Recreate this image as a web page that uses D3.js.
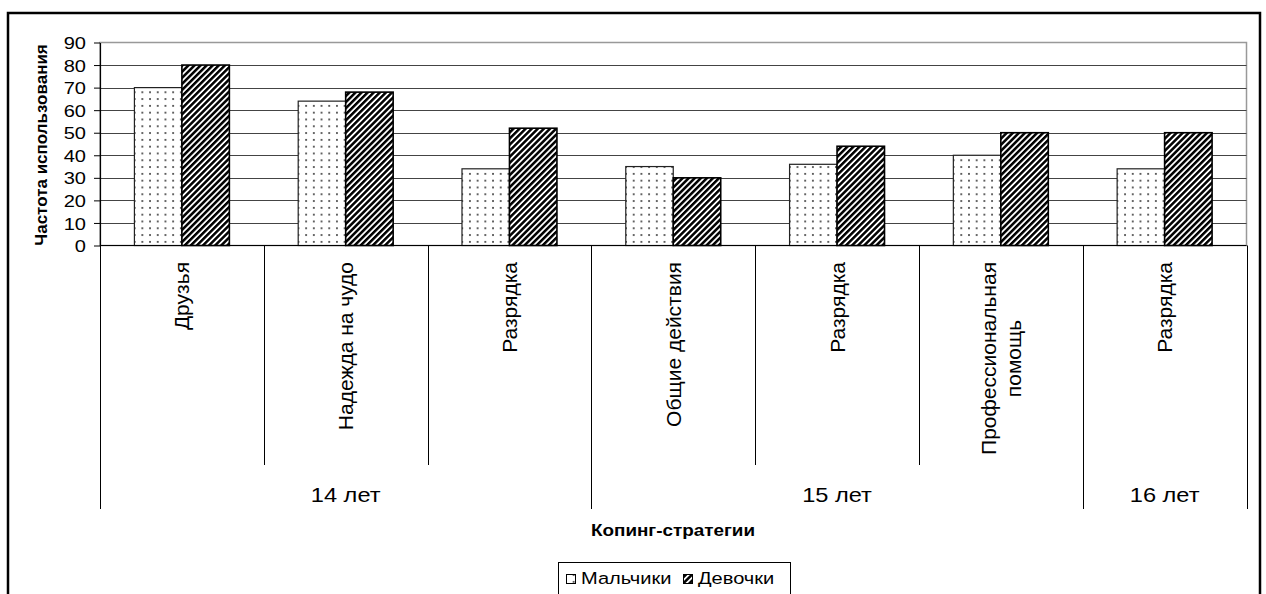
<!DOCTYPE html>
<html>
<head>
<meta charset="utf-8">
<script src="https://cdnjs.cloudflare.com/ajax/libs/d3/7.8.5/d3.min.js"></script>
<style>
  body { margin: 0; background: #fff; }
  svg text { font-family: "Liberation Sans", Arial, sans-serif; fill: #000; }
</style>
</head>
<body>
<svg id="chart" width="1266" height="594"></svg>
<script>
// categories (coping strategies) and their age groups
var categories = ["Друзья", "Надежда на чудо", "Разрядка", "Общие действия", "Разрядка", "Профессиональная|помощь", "Разрядка"];
var groups = [
  { label: "14 лет", from: 0, to: 2 },
  { label: "15 лет", from: 3, to: 5 },
  { label: "16 лет", from: 6, to: 6 }
];
var seriesNames = ["Мальчики", "Девочки"];
var boys  = [70, 64, 34, 35, 36, 40, 34];
var girls = [80, 68, 52, 30, 44, 50, 50];
var yTicks = [0, 10, 20, 30, 40, 50, 60, 70, 80, 90];

var svg = d3.select("#chart");
var sx = 1.18; // text in the original is stretched horizontally

var plotLeft = 100, plotRight = 1246.5, plotTop = 42.5, plotBottom = 245.5;

// patterns
var defs = svg.append("defs");
var pDots = defs.append("pattern")
    .attr("id", "dots")
    .attr("patternUnits", "userSpaceOnUse")
    .attr("width", 7.7).attr("height", 6.8);
pDots.append("rect").attr("width", 7.7).attr("height", 6.8).attr("fill", "#fff");
pDots.append("rect").attr("x", 3).attr("y", 3).attr("width", 1.7).attr("height", 1.7).attr("fill", "#333");

var pHatch = defs.append("pattern")
    .attr("id", "hatch")
    .attr("patternUnits", "userSpaceOnUse")
    .attr("width", 4.3).attr("height", 4.3)
    .attr("patternTransform", "rotate(45)");
pHatch.append("rect").attr("width", 4.3).attr("height", 4.3).attr("fill", "#fff");
pHatch.append("rect").attr("x", 0).attr("y", -1).attr("width", 2.5).attr("height", 7).attr("fill", "#000");

var fills = { "Мальчики": "url(#dots)", "Девочки": "url(#hatch)" };
var strokes = { "Мальчики": "#222", "Девочки": "#000" };

// outer frame
svg.append("rect")
  .attr("x", 8).attr("y", 13)
  .attr("width", 1252).attr("height", 600)
  .attr("fill", "none").attr("stroke", "#000").attr("stroke-width", 2.5);

// scales
var x0 = d3.scaleBand()
  .domain(d3.range(categories.length))
  .range([plotLeft, plotRight]);

var x1 = d3.scaleBand()
  .domain(seriesNames)
  .range([0, x0.bandwidth()])
  .paddingOuter(0.725);

var y = d3.scaleLinear()
  .domain([0, 90])
  .range([plotBottom, plotTop]);

// plot border (grey top + right)
svg.append("rect")
  .attr("x", plotLeft).attr("y", plotTop)
  .attr("width", plotRight - plotLeft).attr("height", plotBottom - plotTop)
  .attr("fill", "#fff").attr("stroke", "#999").attr("stroke-width", 1.5);

// gridlines
svg.append("g").selectAll("line")
  .data(yTicks.filter(d => d > 0 && d < 90))
 .enter().append("line")
  .attr("x1", plotLeft).attr("x2", plotRight)
  .attr("y1", d => Math.round(y(d)) + 0.5).attr("y2", d => Math.round(y(d)) + 0.5)
  .attr("stroke", "#444").attr("stroke-width", 1);

// bars
var data = categories.map(function(c, i){
  return [{ name: "Мальчики", value: boys[i] }, { name: "Девочки", value: girls[i] }];
});

svg.append("g").selectAll("g")
  .data(data)
 .enter().append("g")
  .attr("transform", (d, i) => "translate(" + x0(i) + ",0)")
  .selectAll("rect")
  .data(d => d)
 .enter().append("rect")
  .attr("x", d => x1(d.name))
  .attr("y", d => y(d.value))
  .attr("width", x1.bandwidth())
  .attr("height", d => y(0) - y(d.value))
  .attr("fill", d => fills[d.name])
  .attr("stroke", d => strokes[d.name])
  .attr("stroke-width", d => d.name == "Девочки" ? 1.6 : 1.2);

// y axis
var yAxis = svg.append("g")
  .attr("transform", "translate(" + plotLeft + ",0)")
  .call(d3.axisLeft(y).tickValues(yTicks).tickSize(6).tickSizeOuter(0));
yAxis.select(".domain").attr("stroke", "#000").attr("stroke-width", 1.2);
yAxis.selectAll(".tick line").attr("stroke", "#000");
yAxis.selectAll(".tick text")
  .attr("x", -14 / sx)
  .attr("dy", "0.36em")
  .attr("transform", "scale(" + sx + ",1)")
  .style("font-family", "'Liberation Sans', Arial, sans-serif")
  .style("font-size", "17px")
  .attr("fill", "#000");

// x axis baseline
svg.append("line")
  .attr("x1", plotLeft).attr("x2", plotRight)
  .attr("y1", plotBottom).attr("y2", plotBottom)
  .attr("stroke", "#000").attr("stroke-width", 1.2);

// category separators; group edges run further down
var groupEdges = [];
groups.forEach(function(g){ groupEdges.push(g.from); groupEdges.push(g.to + 1); });
svg.append("g").selectAll("line")
  .data(d3.range(categories.length + 1))
 .enter().append("line")
  .attr("x1", i => Math.round(i < categories.length ? x0(i) : plotRight) + 0.5)
  .attr("x2", i => Math.round(i < categories.length ? x0(i) : plotRight) + 0.5)
  .attr("y1", plotBottom)
  .attr("y2", i => groupEdges.indexOf(i) >= 0 ? 509 : 465)
  .attr("stroke", "#000").attr("stroke-width", 1);

// category labels, rotated, top aligned
var labelTop = 262, lineGap = 25;
categories.forEach(function(c, i){
  var lines = c.split("|");
  var cx = x0(i) + x0.bandwidth() / 2;
  var g = svg.append("g");
  var texts = lines.map(function(l, k){
    return g.append("text")
      .style("font-size", "21px")
      .attr("text-anchor", "middle")
      .attr("dy", "0.36em")
      .text(l);
  });
  var maxLen = d3.max(texts, t => t.node().getComputedTextLength());
  texts.forEach(function(t, k){
    var lx = cx + (k - (lines.length - 1) / 2) * lineGap;
    t.attr("transform", "translate(" + lx + "," + (labelTop + maxLen / 2) + ") rotate(-90)");
  });
});

// group labels
svg.append("g").selectAll("text")
  .data(groups)
 .enter().append("text")
  .attr("transform", function(d){
    var gx = (x0(d.from) + (d.to + 1 < categories.length ? x0(d.to + 1) : plotRight)) / 2;
    return "translate(" + gx + ",495) scale(" + sx + ",1)";
  })
  .attr("text-anchor", "middle")
  .attr("dy", "0.36em")
  .style("font-size", "20px")
  .text(d => d.label);

// axis titles
svg.append("text")
  .attr("transform", "translate(673,530) scale(" + sx + ",1)")
  .attr("text-anchor", "middle")
  .attr("dy", "0.36em")
  .style("font-size", "16px")
  .style("font-weight", "bold")
  .text("Копинг-стратегии");

svg.append("text")
  .attr("transform", "translate(41,145) rotate(-90)")
  .attr("text-anchor", "middle")
  .attr("dy", "0.36em")
  .style("font-size", "17px")
  .style("font-weight", "bold")
  .text("Частота использования");

// legend
var legend = svg.append("g");
legend.append("rect")
  .attr("x", 558.5).attr("y", 562.5)
  .attr("width", 232).attr("height", 40)
  .attr("fill", "#fff").attr("stroke", "#000").attr("stroke-width", 1);

var legendX = [566, 683];
seriesNames.forEach(function(s, i){
  legend.append("rect")
    .attr("x", legendX[i] + 0.5).attr("y", 574.5)
    .attr("width", 9).attr("height", 9)
    .attr("fill", fills[s]).attr("stroke", "#000").attr("stroke-width", 1);
  legend.append("text")
    .attr("transform", "translate(" + (legendX[i] + 15) + ",578) scale(" + sx + ",1)")
    .attr("dy", "0.36em")
    .style("font-size", "17px")
    .text(s);
});
</script>
</body>
</html>
